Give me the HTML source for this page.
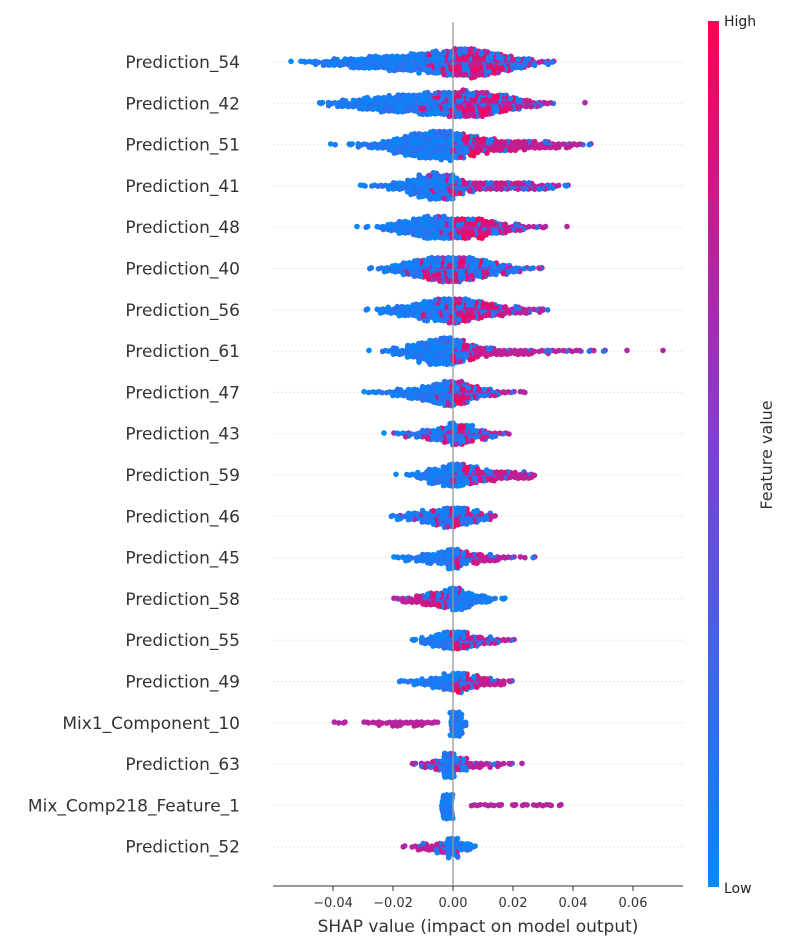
<!DOCTYPE html>
<html><head><meta charset="utf-8"><style>
body{margin:0;background:#fff;}
svg{display:block;font-family:"DejaVu Sans","Liberation Sans",sans-serif;}
</style></head><body>
<svg id="chart" width="800" height="950"></svg>
<script>
const features = ["Prediction_54","Prediction_42","Prediction_51","Prediction_41","Prediction_48","Prediction_40","Prediction_56","Prediction_61","Prediction_47","Prediction_43","Prediction_59","Prediction_46","Prediction_45","Prediction_58","Prediction_55","Prediction_49","Mix1_Component_10","Prediction_63","Mix_Comp218_Feature_1","Prediction_52"];
// each entry: [shap value, point count, share of high feature values]
const bins54=[[-0.054,1,0],[-0.050,3,0],[-0.046,5,0],[-0.042,8,0],[-0.038,10,0],[-0.034,14,0],[-0.030,16,0],[-0.026,20,0.05],[-0.022,22,0.05],[-0.018,24,0.05],[-0.014,26,0.05],[-0.010,30,0.1],[-0.006,34,0.15],[-0.002,40,0.35],[0.002,44,0.7],[0.006,46,0.75],[0.010,40,0.7],[0.014,32,0.6],[0.018,24,0.5],[0.022,16,0.4],[0.026,10,0.3],[0.030,5,0.4],[0.034,2,0.3]];
const bins42=[[-0.044,3,0],[-0.040,6,0],[-0.036,10,0],[-0.032,14,0],[-0.028,18,0],[-0.024,22,0],[-0.020,26,0.05],[-0.016,28,0.05],[-0.012,30,0.1],[-0.008,34,0.15],[-0.004,36,0.2],[0,40,0.4],[0.004,42,0.6],[0.008,40,0.7],[0.012,34,0.7],[0.016,28,0.65],[0.020,20,0.6],[0.024,12,0.6],[0.028,8,0.7],[0.032,4,0.6],[0.044,1,1]];
const bins51=[[-0.040,2,0],[-0.034,3,0],[-0.030,5,0],[-0.026,8,0],[-0.022,14,0],[-0.018,24,0],[-0.014,34,0],[-0.010,40,0],[-0.006,44,0],[-0.002,46,0.05],[0.002,40,0.2],[0.006,30,0.6],[0.010,22,0.8],[0.014,18,0.8],[0.018,16,0.8],[0.022,14,0.8],[0.026,12,0.8],[0.030,10,0.85],[0.034,8,0.85],[0.038,6,0.9],[0.042,4,0.9],[0.046,2,0.9]];
const bins41=[[-0.030,3,0],[-0.026,4,0],[-0.022,6,0],[-0.018,12,0],[-0.014,22,0.05],[-0.010,34,0.05],[-0.006,42,0.1],[-0.002,40,0.2],[0.002,26,0.4],[0.006,14,0.6],[0.010,12,0.6],[0.014,12,0.7],[0.018,12,0.7],[0.022,12,0.7],[0.026,10,0.6],[0.030,8,0.5],[0.034,5,0.4],[0.038,3,0.2]];
const bins48=[[-0.032,1,0],[-0.028,2,0],[-0.024,5,0],[-0.020,12,0],[-0.016,20,0],[-0.012,28,0.05],[-0.008,34,0.05],[-0.004,36,0.1],[0,32,0.4],[0.004,32,0.75],[0.008,30,0.75],[0.012,22,0.7],[0.016,16,0.6],[0.020,10,0.6],[0.024,6,0.5],[0.028,4,0.6],[0.030,2,1],[0.038,1,1]];
const bins40=[[-0.027,2,0],[-0.023,6,0],[-0.019,12,0.05],[-0.015,20,0.15],[-0.011,28,0.25],[-0.007,36,0.35],[-0.003,40,0.45],[0.001,40,0.45],[0.005,36,0.35],[0.009,28,0.3],[0.013,20,0.25],[0.017,14,0.2],[0.021,8,0.2],[0.025,4,0.3],[0.029,3,0.5]];
const bins56=[[-0.028,2,0],[-0.024,6,0],[-0.020,10,0],[-0.016,16,0.05],[-0.012,22,0.05],[-0.008,30,0.1],[-0.004,36,0.15],[0,40,0.4],[0.004,36,0.6],[0.008,28,0.65],[0.012,20,0.7],[0.016,14,0.7],[0.020,10,0.7],[0.024,8,0.75],[0.028,5,0.8],[0.031,2,0.8]];
const bins61=[[-0.028,1,0],[-0.022,4,0],[-0.018,10,0],[-0.014,20,0],[-0.010,30,0],[-0.006,40,0],[-0.002,44,0.05],[0.002,36,0.3],[0.006,22,0.6],[0.010,14,0.8],[0.014,10,0.85],[0.018,8,0.85],[0.022,8,0.85],[0.026,6,0.9],[0.030,5,0.9],[0.034,4,0.85],[0.038,4,0.8],[0.042,3,0.9],[0.046,3,0.9],[0.050,2,0.9],[0.058,1,1],[0.070,1,1]];
const bins47=[[-0.029,2,0],[-0.025,4,0],[-0.021,6,0],[-0.017,10,0],[-0.013,16,0.05],[-0.009,24,0.05],[-0.005,32,0.1],[-0.001,40,0.3],[0.003,34,0.7],[0.007,20,0.6],[0.011,12,0.5],[0.015,6,0.5],[0.019,4,0.7],[0.023,3,1]];
const bins43=[[-0.023,1,0],[-0.019,3,0.3],[-0.015,6,0.3],[-0.011,10,0.25],[-0.007,16,0.2],[-0.003,22,0.2],[0.001,34,0.3],[0.005,28,0.4],[0.009,14,0.4],[0.013,8,0.5],[0.017,4,0.4]];
const bins59=[[-0.019,1,0],[-0.014,4,0],[-0.010,10,0],[-0.006,24,0],[-0.002,34,0.05],[0.002,36,0.2],[0.006,28,0.4],[0.010,18,0.6],[0.014,14,0.7],[0.018,12,0.75],[0.022,10,0.8],[0.026,6,0.85]];
const bins46=[[-0.021,2,0],[-0.017,6,0.1],[-0.013,12,0.15],[-0.009,18,0.25],[-0.005,24,0.25],[-0.001,32,0.3],[0.003,28,0.3],[0.007,18,0.3],[0.011,10,0.3],[0.013,4,0.4]];
const bins45=[[-0.019,3,0],[-0.015,6,0],[-0.011,10,0],[-0.007,14,0],[-0.003,20,0.05],[0,32,0.1],[0.003,22,0.4],[0.007,14,0.7],[0.011,10,0.8],[0.015,6,0.8],[0.019,4,0.8],[0.023,2,1],[0.027,2,0.9]];
const bins58=[[-0.019,3,0.9],[-0.015,8,0.9],[-0.011,14,0.8],[-0.007,20,0.7],[-0.003,26,0.45],[0.001,36,0.15],[0.005,22,0.05],[0.009,12,0],[0.013,6,0],[0.017,3,0]];
const bins55=[[-0.013,3,0],[-0.009,10,0.05],[-0.005,18,0.05],[-0.001,28,0.2],[0.003,28,0.45],[0.007,16,0.6],[0.011,10,0.65],[0.015,6,0.7],[0.019,4,0.8]];
const bins49=[[-0.017,3,0],[-0.013,6,0],[-0.009,10,0],[-0.005,16,0],[-0.001,26,0.1],[0.003,30,0.4],[0.007,18,0.7],[0.011,12,0.8],[0.015,8,0.85],[0.019,3,0.9]];
const binsMix1=[[-0.039,2,1],[-0.036,2,1],[-0.029,3,1],[-0.025,5,1],[-0.021,6,1],[-0.017,6,1],[-0.013,6,1],[-0.009,5,1],[-0.006,3,1],[0.001,40,0],[0.003,10,0]];
const bins63=[[-0.013,3,0.9],[-0.009,8,0.7],[-0.005,14,0.5],[-0.001,40,0.05],[0.003,20,0.4],[0.007,8,0.9],[0.011,6,0.9],[0.015,5,0.9],[0.019,3,0.9],[0.023,1,1]];
const binsMix218=[[-0.002,40,0],[0.008,4,1],[0.012,4,1],[0.016,3,1],[0.020,3,1],[0.024,3,1],[0.028,4,1],[0.032,3,1],[0.036,2,1]];
const bins52=[[-0.016,2,1],[-0.012,6,0.9],[-0.008,10,0.8],[-0.004,16,0.5],[0,30,0.1],[0.004,12,0],[0.007,3,0]];
const allBins=[bins54,bins42,bins51,bins41,bins48,bins40,bins56,bins61,bins47,bins43,bins59,bins46,bins45,bins58,bins55,bins49,binsMix1,bins63,binsMix218,bins52];
const xTicks=[-0.04,-0.02,0,0.02,0.04,0.06];
const xTickLabels=["\u22120.04","\u22120.02","0.00","0.02","0.04","0.06"];

const NS="http://www.w3.org/2000/svg";
const svg=document.getElementById('chart');
function X(v){return 453+v*3000;}
function Y(i){return 62+i*41.3;}
function mk(tag,attrs,parent){const e=document.createElementNS(NS,tag);for(const k in attrs)e.setAttribute(k,attrs[k]);(parent||svg).appendChild(e);return e;}
function col(t){
  const a=[0,138,250],m=[124,64,218],b=[255,0,82];
  let c;
  if(t<0.5){const u=t/0.5;c=a.map((x,i)=>Math.round(x+(m[i]-x)*u));}
  else{const u=(t-0.5)/0.5;c=m.map((x,i)=>Math.round(x+(b[i]-x)*u));}
  return 'rgb('+c.join(',')+')';
}
features.forEach((f,i)=>{
  const g=mk('line',{x1:273,x2:683,y1:Y(i),y2:Y(i),stroke:'#ccc','stroke-width':1,'stroke-dasharray':'1,3'});
  
  
});
allBins.forEach((bins,fi)=>{
  const grp=mk('g',{});
  
  
  bins.forEach(b=>{
    const v=b[0],n=b[1],share=b[2];
    const cx0=X(v);
    const per=4;
    for(let k=0;k<n;k++){
      const L=Math.floor(k/per);
      const off=n===1?0:(((k*0.7548776+v*97)%1+1)%1-0.5)*(n<4?6:12);
      const yo=(L%2?1:-1)*Math.ceil(L/2)*2.6+((k*0.5698)%1-0.5)*1.4;
      const fr=(k*0.6180339+share*0.37)%1;
      const t=fr<share?(0.7+((k*0.31)%0.3)):((k*0.13)%0.2);
      const c=mk('circle',{cx:(cx0+off).toFixed(1),cy:(Y(fi)+yo).toFixed(1),r:2.8,fill:col(t)},grp);
      
      
    }
  });
});
const zl=mk('line',{x1:X(0),x2:X(0),y1:22,y2:886,stroke:'#999','stroke-width':1.3});


features.forEach((f,i)=>{
  const t=mk('text',{x:240,y:Y(i)+6,'text-anchor':'end','font-size':17,fill:'#333'});
  t.textContent=f;
  
  
});
const ax=mk('line',{x1:273,x2:683,y1:886,y2:886,stroke:'#333','stroke-width':1});


xTicks.forEach((v,i)=>{
  const tk=mk('line',{x1:X(v),x2:X(v),y1:886,y2:891,stroke:'#333'});
  
  
  const tl=mk('text',{x:X(v),y:907,'text-anchor':'middle','font-size':13,fill:'#333'});
  tl.textContent=xTickLabels[i];
  
  
});
const xt=mk('text',{x:478,y:932,'text-anchor':'middle','font-size':17,fill:'#333'});
xt.textContent='SHAP value (impact on model output)';


const defs=mk('defs',{});
const lg=mk('linearGradient',{id:'cb',x1:0,y1:1,x2:0,y2:0},defs);
[0,0.25,0.5,0.75,1].forEach(s=>mk('stop',{offset:s,'stop-color':col(s)},lg));
const cb=mk('rect',{x:708,y:21,width:11,height:866,fill:'url(#cb)'});


const hi=mk('text',{x:724,y:26,'font-size':14,fill:'#222'});hi.textContent='High';


const lo=mk('text',{x:724,y:893,'font-size':14,fill:'#222'});lo.textContent='Low';


const fv=mk('text',{x:772,y:455,'text-anchor':'middle','font-size':16,fill:'#333',transform:'rotate(-90 772 455)'});
fv.textContent='Feature value';


</script>
</body></html>
